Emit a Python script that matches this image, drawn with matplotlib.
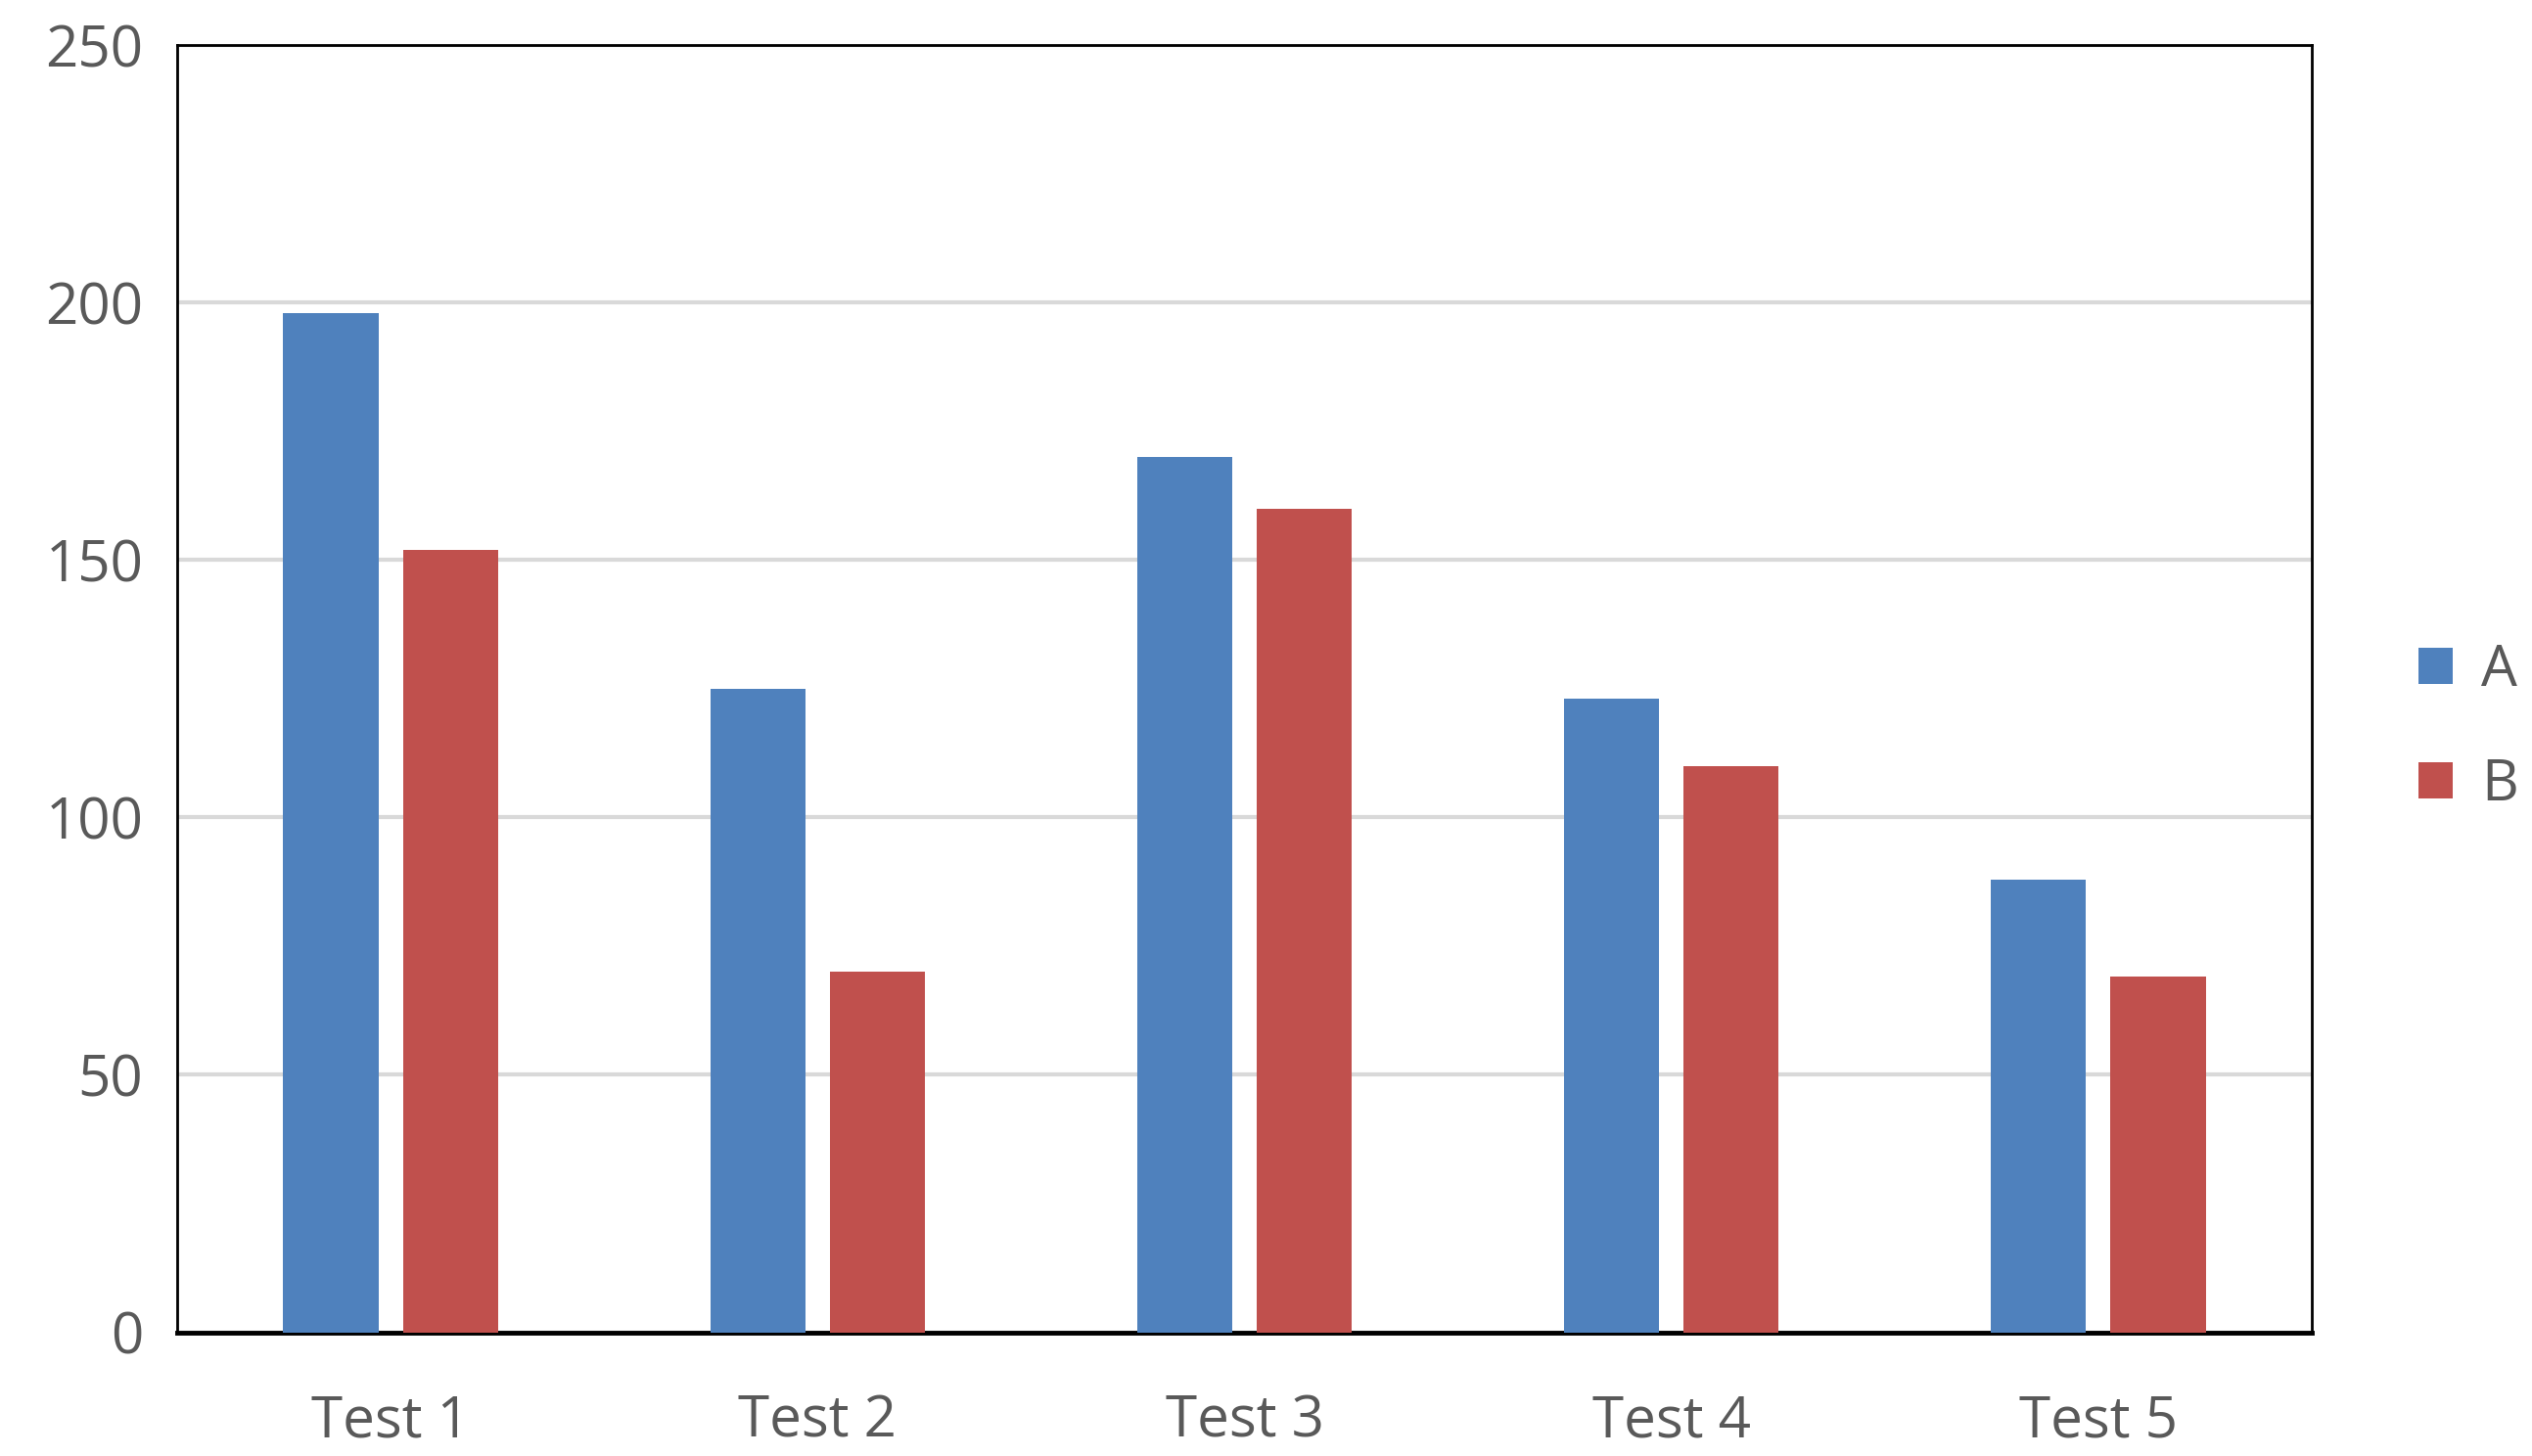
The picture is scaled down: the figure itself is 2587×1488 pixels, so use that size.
import matplotlib
matplotlib.use("Agg")
import matplotlib.pyplot as plt
import numpy as np

categories = ["Test 1", "Test 2", "Test 3", "Test 4", "Test 5"]
series_a = [198, 125, 170, 123, 88]
series_b = [152, 70, 160, 110, 69]
yticks = [0, 50, 100, 150, 200, 250]

plt.rcParams['font.family'] = ['Open Sans', 'DejaVu Sans']
fig = plt.figure(figsize=(25.87, 14.88), dpi=100)
ax = fig.add_axes([0.070, 0.085, 0.843, 0.884])
x = np.arange(len(categories))
w = 0.223
ax.bar(x - 0.14, series_a, w, color="#4f81bd", label="A", zorder=3)
ax.bar(x + 0.14, series_b, w, color="#c0504d", label="B", zorder=3)
ax.set_xlim(-0.5, 4.5)
ax.set_ylim(0, 250)
ax.set_yticks(yticks)
ax.set_xticks(x)
ax.set_xticklabels(categories)
ax.yaxis.grid(True, color="#d9d9d9", lw=3, zorder=0)
ax.tick_params(axis='y', length=0, labelsize=42, colors="#595959", pad=25)
ax.tick_params(axis='x', length=0, labelsize=42, colors="#595959", pad=45)
for s in ax.spines.values():
    s.set_color("black"); s.set_linewidth(2)
ax.spines['bottom'].set_linewidth(3.5)
fig.legend(*ax.get_legend_handles_labels(), loc="center left", bbox_to_anchor=(0.955, 0.50),
           frameon=False, fontsize=42, labelcolor="#595959", handlelength=0.6, handleheight=0.6,
           labelspacing=1.0, handletextpad=0.5, borderaxespad=0, borderpad=0)
fig.savefig("out.png", dpi=100)
